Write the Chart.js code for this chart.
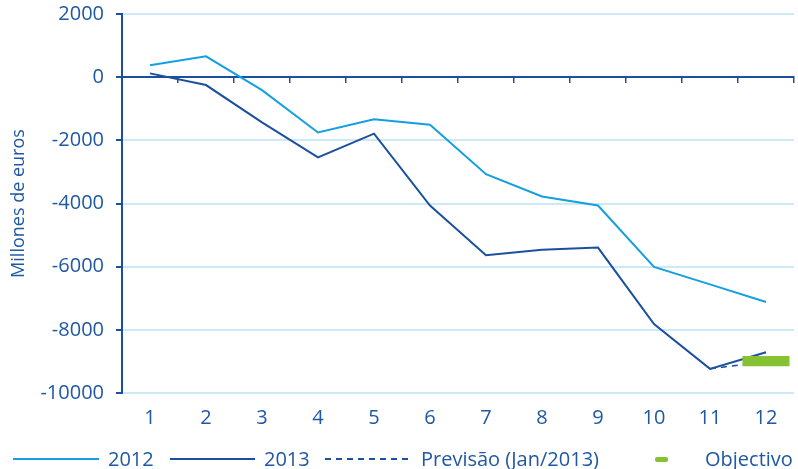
<!DOCTYPE html>
<html>
<head>
<meta charset="utf-8">
<script src="https://cdn.jsdelivr.net/npm/chart.js@4"></script>
<style>
  body { margin: 0; background: #fff; }
  #wrap { position: relative; width: 798px; height: 469px; overflow: hidden; }
  #legend { position: absolute; left: 0; top: 447px; width: 798px; height: 22px;
            font-family: "Open Sans", sans-serif; font-size: 20px; color: #1f58a3; }
  #legend div { position: absolute; }
  .txt { top: 0; line-height: 24px; white-space: nowrap; }
</style>
</head>
<body>
<div id="wrap">
  <canvas id="chart" width="798" height="469"></canvas>
  <div id="legend"></div>
</div>
<script>
// meses
const months = ["1", "2", "3", "4", "5", "6", "7", "8", "9", "10", "11", "12"];
// saldo acumulado, milhões de euros
const values2012 = [380, 660, -410, -1750, -1330, -1505, -3070, -3780, -4065, -6010, -6560, -7120];
const values2013 = [120, -250, -1430, -2540, -1790, -4065, -5635, -5465, -5395, -7815, -9235, -8710];
const forecast = [null, null, null, null, null, null, null, null, null, null, -9235, -9000];
const target = [null, null, null, null, null, null, null, null, null, null, null, [-9150, -8830]];
const yTicks = [2000, 0, -2000, -4000, -6000, -8000, -10000];

const navy = "#1b4f9f";
const sky = "#159fe0";
const green = "#86c332";
const textCol = "#1f58a3";
const gridCol = "#cbe9f7";
const font = { family: "Open Sans", size: 20 };

let ctx = document.getElementById("chart").getContext("2d");
let chart = new Chart(ctx, {
    type: "line",
    data: {
        labels: months,
        datasets: [
            { label: "2012", data: values2012, borderColor: sky, borderWidth: 2, pointRadius: 0, fill: false, order: 2 },
            { label: "2013", data: values2013, borderColor: navy, borderWidth: 2, pointRadius: 0, fill: false, order: 1 },
            { label: "Previsão (Jan/2013)", data: forecast, borderColor: navy, borderWidth: 1.5, borderDash: [6, 5],
              pointRadius: 0, fill: false, order: 3 },
            { type: "bar", label: "Objectivo", data: target, backgroundColor: green,
              categoryPercentage: 1, barPercentage: 0.84, order: 0 }
        ]
    },
    options: {
        responsive: false,
        animation: false,
        layout: { padding: { top: 14, right: 4, bottom: 34, left: 0 } },
        plugins: { legend: { display: false }, tooltip: { enabled: false } },
        scales: {
            x: {
                offset: true,
                grid: { display: false },
                border: { display: false },
                ticks: { color: textCol, font: font, padding: 5 }
            },
            x2: {
                type: "category",
                position: { y: 0 },
                offset: true,
                grid: { drawOnChartArea: false, offset: true, tickLength: 5, color: navy, lineWidth: 1.5 },
                border: { color: navy, width: 2 },
                ticks: { display: false }
            },
            y: {
                min: -10000,
                max: 2000,
                afterFit: scale => {
                    scale.width = 122;
                    scale.paddingTop = 0;
                    scale.paddingBottom = 0;
                },
                afterBuildTicks: scale => { scale.ticks = yTicks.map(v => ({ value: v })); },
                grid: { color: gridCol, lineWidth: 2, tickLength: 6, tickColor: navy },
                border: { color: navy, width: 2 },
                ticks: { color: textCol, font: font, padding: 12, callback: v => String(v) },
                title: { display: true, text: "Millones de euros", color: textCol,
                         font: { family: "Open Sans", size: 18 }, padding: { top: 8, bottom: 0 } }
            }
        }
    }
});

// leyenda
let legend = document.getElementById("legend");
let items = [
    { kind: "line", color: sky, x: 13, w: 86, text: "2012", tx: 108 },
    { kind: "line", color: navy, x: 170, w: 85, text: "2013", tx: 264 },
    { kind: "dash", color: navy, x: 325, w: 86, text: "Previsão (Jan/2013)", tx: 421 },
    { kind: "box", color: green, x: 655, w: 13, text: "Objectivo", tx: 705 }
];
items.forEach(it => {
    let mark = document.createElement("div");
    mark.style.left = it.x + "px";
    mark.style.width = it.w + "px";
    if (it.kind == "line") {
        mark.style.top = "11px";
        mark.style.height = "2px";
        mark.style.background = it.color;
    } else if (it.kind == "dash") {
        mark.style.top = "11px";
        mark.style.height = "1.5px";
        mark.style.background = "repeating-linear-gradient(90deg, " + it.color + " 0 6px, transparent 6px 11px)";
    } else {
        mark.style.top = "10px";
        mark.style.height = "5px";
        mark.style.borderRadius = "2px";
        mark.style.background = it.color;
    }
    legend.appendChild(mark);
    let label = document.createElement("div");
    label.className = "txt";
    label.style.left = it.tx + "px";
    label.textContent = it.text;
    legend.appendChild(label);
});
</script>
</body>
</html>
